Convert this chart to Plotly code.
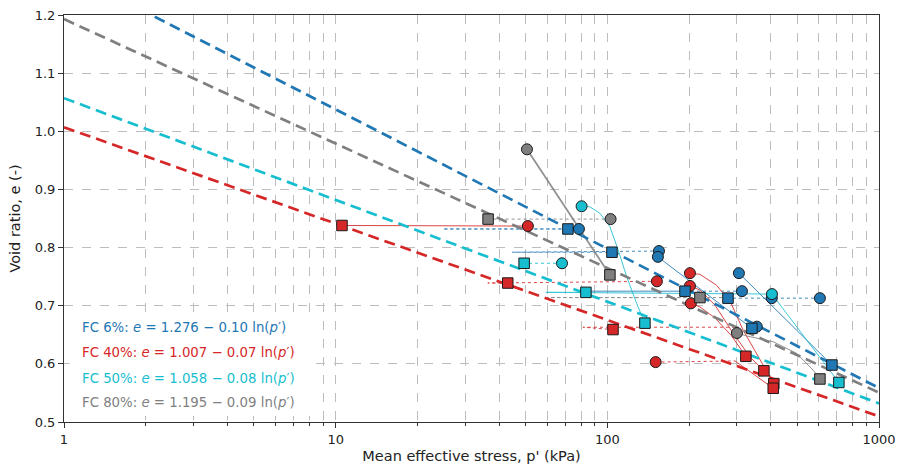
import math
import plotly.graph_objects as go

# ---------------- data ----------------
fc_labels = ["FC 6%", "FC 40%", "FC 50%", "FC 80%"]
colors = ["#1f77b4", "#d62728", "#17becf", "#7f7f7f"]
csl_a_text = ["1.276", "1.007", "1.058", "1.195"]
csl_b_text = ["0.10", "0.07", "0.08", "0.09"]
csl_a = [1.277, 1.007, 1.057, 1.193]
csl_b = [0.104, 0.072, 0.076, 0.093]
csl_p = [1, 1000]

# start states (circles)
blue_start_p = [78.6, 154.9, 153.5, 305, 313, 606, 355, 403]
blue_start_e = [0.832, 0.794, 0.784, 0.756, 0.725, 0.713, 0.664, 0.713]
red_start_p = [51.0, 152.2, 201.4, 201.4, 203, 150.6]
red_start_e = [0.837, 0.742, 0.756, 0.734, 0.704, 0.603]
cyan_start_p = [80.4, 68.1, 403.6]
cyan_start_e = [0.871, 0.773, 0.720]
grey_start_p = [50.6, 102.8, 300]
grey_start_e = [0.969, 0.849, 0.653]

# end states (squares)
blue_end_p = [71.6, 104.0, 193.1, 278, 340.6, 671]
blue_end_e = [0.832, 0.792, 0.725, 0.713, 0.661, 0.598]
red_end_p = [10.55, 43.0, 104.9, 323.6, 377, 410, 408]
red_end_e = [0.838, 0.739, 0.659, 0.613, 0.588, 0.566, 0.558]
cyan_end_p = [49.4, 83.4, 137.5, 711.6]
cyan_end_e = [0.773, 0.723, 0.670, 0.568]
grey_end_p = [36.4, 102.2, 219.2, 606]
grey_end_e = [0.849, 0.753, 0.714, 0.574]

# stress paths (vertices)
blue_paths_p = [[78.6, 24.8, 71.6], [154.9, 44.6, 104.0], [153.5, 340.6], [305, 671],
                [313, 193.1], [193.1, 83.4], [606, 278]]
blue_paths_e = [[0.832, 0.832, 0.832], [0.794, 0.792, 0.792], [0.784, 0.661], [0.756, 0.598],
                [0.725, 0.725], [0.725, 0.725], [0.713, 0.713]]
blue_paths_dash = ["dot", "dot", "solid", "solid", "dot", "solid", "dot"]

red_paths_p = [[51.0, 10.55], [152.2, 36.3, 43.0],
               [201.4, 219.2, 252.7, 285.5, 316, 364.5, 410],
               [201.4, 219.2, 249, 285.5, 334.8, 377],
               [203, 219.2, 249, 285.5, 323.6],
               [150.6, 295], [295, 408], [295, 81.3, 104.9]]
red_paths_e = [[0.837, 0.838], [0.742, 0.739, 0.739],
               [0.756, 0.754, 0.735, 0.704, 0.658, 0.607, 0.566],
               [0.734, 0.727, 0.701, 0.658, 0.612, 0.588],
               [0.704, 0.698, 0.679, 0.649, 0.613],
               [0.603, 0.605], [0.605, 0.558], [0.663, 0.663, 0.659]]
red_paths_dash = ["solid", "dot", "solid", "solid", "solid", "dot", "solid", "dot"]

cyan_paths_p = [[80.0, 86.3, 93.9, 102.2, 109.6, 117.8, 128.2, 137.5],
                [68.1, 49.4], [403.6, 59.4, 83.4], [403.6, 711.6]]
cyan_paths_e = [[0.872, 0.870, 0.859, 0.836, 0.796, 0.750, 0.704, 0.670],
                [0.773, 0.773], [0.720, 0.723, 0.723], [0.720, 0.568]]
cyan_paths_dash = ["solid", "dot", "solid", "solid"]

grey_paths_p = [[50.6, 102.2], [102.8, 36.4],
                [300, 325.6, 407.9, 497.6, 572.6, 606], [278, 59.9, 219.2]]
grey_paths_e = [[0.969, 0.753], [0.849, 0.849],
                [0.653, 0.648, 0.638, 0.618, 0.589, 0.574], [0.714, 0.714, 0.714]]
grey_paths_dash = ["solid", "dot", "solid", "dot"]
grey_paths_width = [1.8, 1.0, 1.0, 1.0]

# ---------------- figure ----------------
fig = go.Figure()

groups = [
    (blue_paths_p, blue_paths_e, blue_paths_dash, None, colors[0]),
    (red_paths_p, red_paths_e, red_paths_dash, None, colors[1]),
    (cyan_paths_p, cyan_paths_e, cyan_paths_dash, None, colors[2]),
    (grey_paths_p, grey_paths_e, grey_paths_dash, grey_paths_width, colors[3]),
]
for pp, ee, dd, ww, col in groups:
    for i, (px, ex) in enumerate(zip(pp, ee)):
        w = ww[i] if ww else 1.0
        fig.add_trace(go.Scatter(x=px, y=ex, mode="lines",
                                 line=dict(color=col, width=w, dash=dd[i]),
                                 opacity=0.85, showlegend=False, hoverinfo="skip"))

# CSL lines
for a, b, col in zip(csl_a, csl_b, colors):
    fig.add_trace(go.Scatter(x=csl_p, y=[a - b * math.log(p) for p in csl_p], mode="lines",
                             line=dict(color=col, width=2.7, dash="11px,6px"),
                             showlegend=False, hoverinfo="skip"))

starts = [(blue_start_p, blue_start_e, colors[0]), (red_start_p, red_start_e, colors[1]),
          (cyan_start_p, cyan_start_e, colors[2]), (grey_start_p, grey_start_e, colors[3])]
ends = [(blue_end_p, blue_end_e, colors[0]), (red_end_p, red_end_e, colors[1]),
        (cyan_end_p, cyan_end_e, colors[2]), (grey_end_p, grey_end_e, colors[3])]
for px, ex, col in starts:
    fig.add_trace(go.Scatter(x=px, y=ex, mode="markers",
                             marker=dict(symbol="circle", size=11, color=col,
                                         line=dict(color="#1a1a1a", width=1)),
                             showlegend=False))
for px, ex, col in ends:
    fig.add_trace(go.Scatter(x=px, y=ex, mode="markers",
                             marker=dict(symbol="square", size=10.5, color=col,
                                         line=dict(color="#1a1a1a", width=1)),
                             showlegend=False))

# equation labels
fig.add_shape(type="rect", xref="paper", yref="paper", x0=0.007, x1=0.309, y0=0.015, y1=0.27,
              fillcolor="white", line=dict(width=0), layer="above")
label_y = [0.233, 0.170, 0.108, 0.047]
for lab, a, b, col, yy in zip(fc_labels, csl_a_text, csl_b_text, colors, label_y):
    fig.add_annotation(xref="paper", yref="paper", x=0.0196, y=yy, xanchor="left", yanchor="middle",
                       showarrow=False,
                       text=f"{lab}: <i>e</i> = {a} \u2212 {b} ln(<i>p</i>\u2032)",
                       font=dict(color=col, size=13.3, family="DejaVu Sans"))

grid = dict(showgrid=True, gridcolor="#bdbdbd", gridwidth=0.8, griddash="dash")
minor_vals = [m * d for d in (1, 10, 100) for m in range(2, 10)]
fig.update_xaxes(type="log", range=[0, 3], tickmode="array", automargin=False,
                 tickvals=[1, 10, 100, 1000], ticktext=["1", "10", "100", "1000"],
                 ticks="outside", ticklen=5, tickcolor="#333", showline=True, mirror=True,
                 linecolor="#333", linewidth=1, zeroline=False,
                 minor=dict(tickmode="array", tickvals=minor_vals, ticks="outside", ticklen=3,
                            tickcolor="#333", showgrid=True, gridcolor="#bdbdbd", gridwidth=0.8,
                            griddash="dash"),
                 title=dict(text="Mean effective stress, p' (kPa)", standoff=5,
                            font=dict(size=14.5, color="#222")),
                 tickfont=dict(size=13, color="#222"), **grid)
fig.update_yaxes(range=[0.5, 1.2], dtick=0.1, tick0=0.5, tickformat=".1f", automargin=False,
                 ticks="outside", ticklen=5, tickcolor="#333", showline=True, mirror=True,
                 linecolor="#333", linewidth=1, zeroline=False,
                 title=dict(text="Void ratio, e (-)", standoff=10, font=dict(size=14.5, color="#222")),
                 tickfont=dict(size=13, color="#222"), **grid)
fig.update_layout(width=898, height=470, margin=dict(l=64, r=19, t=15, b=48),
                  plot_bgcolor="white", paper_bgcolor="white",
                  font=dict(family="DejaVu Sans", color="#222"))
fig.write_html("out.html")
